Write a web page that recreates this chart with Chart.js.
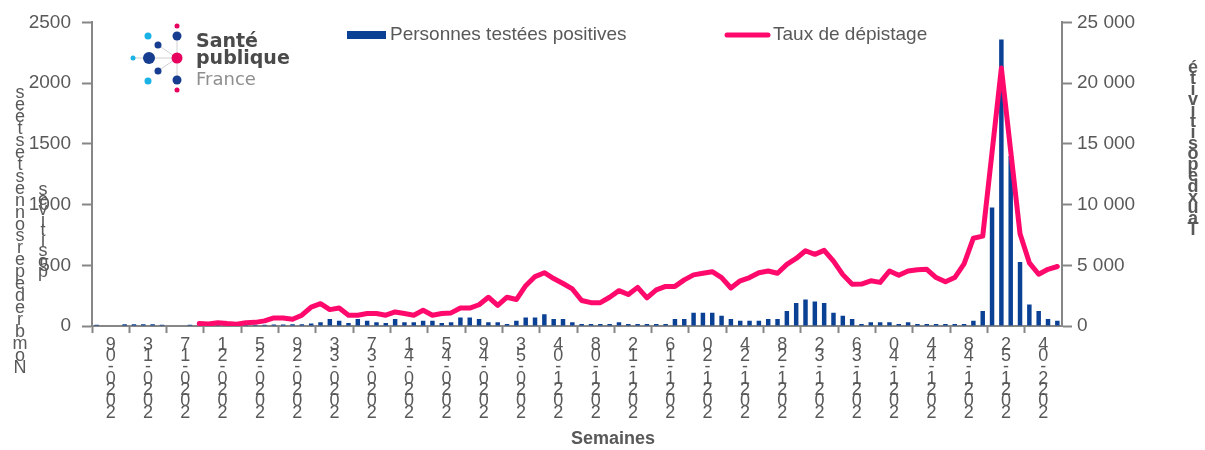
<!DOCTYPE html>
<html>
<head>
<meta charset="utf-8">
<script src="https://cdn.jsdelivr.net/npm/chart.js@4.4.1/dist/chart.umd.min.js"></script>
<style>
  html, body { margin: 0; padding: 0; background: #fff; }
</style>
</head>
<body>
<canvas id="graphique-semaines" width="1205" height="450"></canvas>
<script>
/* global Chart */
// Semaines ISO (une catégorie par semaine)
const semaines = [
  "2020-09", "2020-10", "2020-11", "2020-12", "2020-13", "2020-14", "2020-15", "2020-16",
  "2020-17", "2020-18", "2020-19", "2020-20", "2020-21", "2020-22", "2020-23", "2020-24",
  "2020-25", "2020-26", "2020-27", "2020-28", "2020-29", "2020-30", "2020-31", "2020-32",
  "2020-33", "2020-34", "2020-35", "2020-36", "2020-37", "2020-38", "2020-39", "2020-40",
  "2020-41", "2020-42", "2020-43", "2020-44", "2020-45", "2020-46", "2020-47", "2020-48",
  "2020-49", "2020-50", "2020-51", "2020-52", "2020-53", "2021-01", "2021-02", "2021-03",
  "2021-04", "2021-05", "2021-06", "2021-07", "2021-08", "2021-09", "2021-10", "2021-11",
  "2021-12", "2021-13", "2021-14", "2021-15", "2021-16", "2021-17", "2021-18", "2021-19",
  "2021-20", "2021-21", "2021-22", "2021-23", "2021-24", "2021-25", "2021-26", "2021-27",
  "2021-28", "2021-29", "2021-30", "2021-31", "2021-32", "2021-33", "2021-34", "2021-35",
  "2021-36", "2021-37", "2021-38", "2021-39", "2021-40", "2021-41", "2021-42", "2021-43",
  "2021-44", "2021-45", "2021-46", "2021-47", "2021-48", "2021-49", "2021-50", "2021-51",
  "2021-52", "2022-01", "2022-02", "2022-03", "2022-04", "2022-05", "2022-06", "2022-07",
]

// Nombre de personnes testées positives (axe de gauche)
const positifs = [
  10, 0, 0, 15, 15, 15, 15, 10, 0, 0, 10, 5,
  8, 8, 8, 8, 10, 10, 10, 12, 12, 15, 15, 20,
  30, 57, 43, 25, 57, 43, 30, 25, 57, 30, 30, 43,
  43, 25, 30, 70, 70, 57, 30, 30, 16, 43, 70, 70,
  97, 57, 57, 30, 16, 16, 16, 16, 30, 16, 16, 16,
  16, 16, 57, 57, 110, 110, 110, 84, 57, 43, 43, 43,
  57, 57, 124, 189, 218, 202, 189, 110, 84, 57, 16, 30,
  30, 30, 16, 30, 16, 16, 16, 16, 16, 16, 43, 124,
  975, 2360, 1400, 526, 178, 124, 57, 43,
]

// Taux de dépistage (axe de droite), pas de données avant 2020-20
const tauxDepistage = [
  null, null, null, null, null, null, null, null, null, null, null, 200,
  160, 270, 200, 150, 270, 300, 420, 660, 660, 560, 890, 1560,
  1840, 1350, 1480, 890, 890, 1030, 1030, 890, 1160, 1030, 890, 1290,
  890, 1030, 1080, 1480, 1480, 1750, 2370, 1700, 2370, 2180, 3320, 4070,
  4390, 3910, 3500, 3050, 2100, 1920, 1920, 2370, 2910, 2590, 3180, 2320,
  2970, 3260, 3260, 3800, 4210, 4340, 4470, 3990, 3130, 3720, 3990, 4390,
  4530, 4340, 5070, 5560, 6200, 5900, 6230, 5340, 4230, 3430, 3450, 3720,
  3590, 4530, 4180, 4530, 4640, 4670, 3990, 3640, 3990, 5120, 7230, 7400,
  14300, 21250, 14400, 7600, 5200, 4260, 4670, 4900,
]

const ticksGauche = [0, 500, 1000, 1500, 2000, 2500]
const ticksDroite = [0, 5000, 10000, 15000, 20000, 25000]

const GRIS = "#595959"
const GRIS_AXE = "#868686"
const BLEU = "#0b4195"
const ROSE = "#ff0a6c"

/* Textes "empilés" (une lettre par ligne) comme dans l'export Excel */
function colonne(ctx, texte, x, yHaut, pas) {
  const lettres = [...texte.replace(/ /g, "")].reverse()
  lettres.forEach((c, k) => ctx.fillText(c, x, yHaut + k * pas))
}

const decor = {
  id: "decor",
  afterDraw(chart) {
    const ctx = chart.ctx
    ctx.save()

    // titres des axes
    ctx.fillStyle = GRIS
    ctx.textAlign = "center"
    ctx.textBaseline = "middle"
    ctx.font = "18px 'Liberation Sans'"
    colonne(ctx, "Nombre de personnes testées", 20, 93, 11.96)
    colonne(ctx, "positives", 43, 190, 10.25)
    ctx.font = "bold 18px 'Liberation Sans'"
    colonne(ctx, "Taux de positivité", 1193, 68, 10.8)
    ctx.fillText("Semaines", 613, 439)

    // légende
    ctx.textAlign = "left"
    ctx.font = "19px 'Liberation Sans'"
    ctx.fillStyle = BLEU
    ctx.fillRect(347, 31, 39, 8)
    ctx.fillStyle = GRIS
    ctx.fillText("Personnes testées positives", 390, 35)
    ctx.strokeStyle = ROSE
    ctx.lineWidth = 5
    ctx.lineCap = "round"
    ctx.beginPath()
    ctx.moveTo(727, 35)
    ctx.lineTo(768, 35)
    ctx.stroke()
    ctx.fillText("Taux de dépistage", 773, 35)

    // logo Santé publique France
    ctx.strokeStyle = "#d0d0d0"
    ctx.lineWidth = 1
    const cx = 177
    const cy = 58
    ;[[177, 36], [177, 80], [133, 58], [158, 45], [158, 71]].forEach(([x, y]) => {
      ctx.beginPath()
      ctx.moveTo(cx, cy)
      ctx.lineTo(x, y)
      ctx.stroke()
    })
    const points = [
      [177, 26, 2.5, "#e8005e"], [177, 36, 4.5, "#163d8f"], [148, 36, 3.5, "#1bb3e6"],
      [158, 45, 3.5, "#163d8f"], [133, 58, 2.5, "#1bb3e6"], [149, 58, 6, "#163d8f"],
      [177, 58, 5.5, "#e8005e"], [158, 71, 3.5, "#163d8f"], [148, 81, 3.5, "#1bb3e6"],
      [177, 80, 4.5, "#163d8f"], [177, 90, 2.5, "#e8005e"],
    ]
    points.forEach(([x, y, r, c]) => {
      ctx.fillStyle = c
      ctx.beginPath()
      ctx.arc(x, y, r, 0, Math.PI * 2)
      ctx.fill()
    })
    ctx.textBaseline = "alphabetic"
    ctx.fillStyle = "#4a4a4a"
    ctx.font = "bold 19px 'DejaVu Sans'"
    ctx.fillText("Santé", 196, 47)
    ctx.fillText("publique", 196, 64)
    ctx.fillStyle = "#8e8e8e"
    ctx.font = "18px 'DejaVu Sans'"
    ctx.fillText("France", 196, 85)

    ctx.restore()
  },
}

const data = {
  labels: semaines,
  datasets: [
    {
      type: "line",
      label: "Taux de dépistage",
      data: tauxDepistage,
      yAxisID: "y2",
      borderColor: ROSE,
      borderWidth: 5,
      borderJoinStyle: "round",
      borderCapStyle: "round",
      pointRadius: 0,
      tension: 0,
      order: 0,
    },
    {
      type: "bar",
      label: "Personnes testées positives",
      data: positifs,
      yAxisID: "y",
      backgroundColor: BLEU,
      barPercentage: 0.48,
      categoryPercentage: 1,
      order: 1,
    },
  ],
}

const config = {
  data: data,
  options: {
    responsive: false,
    animation: false,
    devicePixelRatio: 1,
    layout: { padding: { top: 17, left: 0, right: 0, bottom: 0 } },
    plugins: { legend: { display: false }, tooltip: { enabled: false } },
    scales: {
      x: {
        offset: true,
        grid: {
          offset: true,
          drawOnChartArea: false,
          tickLength: 7,
          tickWidth: 2,
          tickColor: (c) => (c.index % 4 === 0 ? GRIS_AXE : "rgba(0,0,0,0)"),
        },
        border: { color: GRIS_AXE, width: 2 },
        ticks: {
          autoSkip: false,
          maxRotation: 0,
          minRotation: 0,
          labelOffset: 14,
          padding: 6,
          color: GRIS,
          font: { family: "'Liberation Sans'", size: 18, lineHeight: 0.63 },
          callback: (v, i) => (i % 4 === 0 ? semaines[i].split("").reverse() : ""),
        },
        afterFit: (s) => { s.height = 124 },
      },
      y: {
        position: "left",
        min: 0,
        max: ticksGauche[ticksGauche.length - 1],
        afterBuildTicks: (s) => { s.ticks = ticksGauche.map((v) => ({ value: v })) },
        grid: { drawOnChartArea: false, tickLength: 10, tickWidth: 2, tickColor: GRIS_AXE },
        border: { color: GRIS_AXE, width: 2 },
        ticks: {
          padding: 11,
          color: GRIS,
          font: { family: "'Liberation Sans'", size: 19 },
          callback: (v) => String(v),
        },
        afterFit: (s) => { s.width = 92 },
      },
      y2: {
        position: "right",
        min: 0,
        max: ticksDroite[ticksDroite.length - 1],
        afterBuildTicks: (s) => { s.ticks = ticksDroite.map((v) => ({ value: v })) },
        grid: { drawOnChartArea: false, tickLength: 10, tickWidth: 2, tickColor: GRIS_AXE },
        border: { color: GRIS_AXE, width: 2 },
        ticks: {
          padding: 5,
          color: GRIS,
          font: { family: "'Liberation Sans'", size: 19 },
          callback: (v) => String(v).replace(/\B(?=(\d{3})+(?!\d))/g, " "),
        },
        afterFit: (s) => { s.width = 143 },
      },
    },
  },
  plugins: [decor],
}

new Chart(document.querySelector("#graphique-semaines"), config)
</script>
</body>
</html>
